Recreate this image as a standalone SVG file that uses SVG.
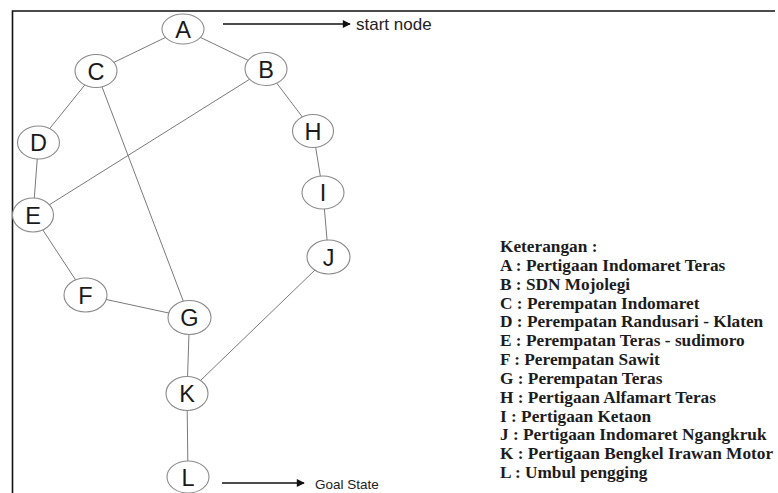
<svg xmlns="http://www.w3.org/2000/svg" width="778" height="493" viewBox="0 0 778 493">
  <style>
    .edge { stroke: #7a7a7a; stroke-width: 1; fill: none; }
    .node ellipse { fill: #ffffff; stroke: #8a8a8a; stroke-width: 1.1; }
    .node text { font-family: "Liberation Sans", Arial, sans-serif; font-size: 23.5px; fill: #1a1a1a; text-anchor: middle; }
    .note { font-family: "Liberation Sans", Arial, sans-serif; fill: #222; }
    .legend { font-family: "Liberation Serif", "Times New Roman", serif; font-weight: bold; font-size: 17.3px; fill: #1c1c1c; }
    .pointer { stroke: #111; stroke-width: 1.3; fill: none; marker-end: url(#head); }
  </style>
  <defs>
    <marker id="head" viewBox="0 0 10 10" refX="9" refY="5" markerWidth="9" markerHeight="8" markerUnits="userSpaceOnUse" orient="auto">
      <path d="M0,0 L10,5 L0,10 Z" fill="#111"/>
    </marker>
  </defs>

  <rect width="778" height="493" fill="#ffffff"/>

  <!-- frame -->
  <path d="M12.5,493 V11 H775" stroke="#111" stroke-width="1.6" fill="none"/>

  <!-- connectors -->
  <g id="edges">
    <line class="edge" x1="183" y1="29" x2="96" y2="71"/>
    <line class="edge" x1="183" y1="29" x2="266" y2="69"/>
    <line class="edge" x1="96" y1="71" x2="38.5" y2="142.5"/>
    <line class="edge" x1="96" y1="71" x2="189.5" y2="317.5"/>
    <line class="edge" x1="266" y1="69" x2="33" y2="215"/>
    <line class="edge" x1="266" y1="69" x2="313" y2="131"/>
    <line class="edge" x1="38.5" y1="142.5" x2="33" y2="215"/>
    <line class="edge" x1="33" y1="215" x2="85.5" y2="295"/>
    <line class="edge" x1="85.5" y1="295" x2="189.5" y2="317.5"/>
    <line class="edge" x1="189.5" y1="317.5" x2="187" y2="393.5"/>
    <line class="edge" x1="313" y1="131" x2="323" y2="192.5"/>
    <line class="edge" x1="323" y1="192.5" x2="328.5" y2="257"/>
    <line class="edge" x1="328.5" y1="257" x2="187" y2="393.5"/>
    <line class="edge" x1="187" y1="393.5" x2="188" y2="477"/>
  </g>

  <!-- nodes -->
  <g id="node-A" class="node"><ellipse cx="183" cy="29" rx="21" ry="15"/><text x="183" y="37.5">A</text></g>
  <g id="node-B" class="node"><ellipse cx="266" cy="69" rx="21" ry="16.5"/><text x="266" y="77.5">B</text></g>
  <g id="node-C" class="node"><ellipse cx="96" cy="71" rx="21" ry="16.5"/><text x="96" y="79.5">C</text></g>
  <g id="node-D" class="node"><ellipse cx="38.5" cy="142.5" rx="21" ry="16.5"/><text x="38.5" y="151">D</text></g>
  <g id="node-E" class="node"><ellipse cx="33" cy="215" rx="20.5" ry="17"/><text x="33" y="223.5">E</text></g>
  <g id="node-F" class="node"><ellipse cx="85.5" cy="295" rx="21.5" ry="17"/><text x="85.5" y="303.5">F</text></g>
  <g id="node-G" class="node"><ellipse cx="189.5" cy="317.5" rx="21.5" ry="17"/><text x="189.5" y="326">G</text></g>
  <g id="node-H" class="node"><ellipse cx="313" cy="131" rx="20.5" ry="16.5"/><text x="313" y="139.5">H</text></g>
  <g id="node-I" class="node"><ellipse cx="323" cy="192.5" rx="21" ry="16.5"/><text x="323" y="201">I</text></g>
  <g id="node-J" class="node"><ellipse cx="328.5" cy="257" rx="21.5" ry="17"/><text x="328.5" y="265.5">J</text></g>
  <g id="node-K" class="node"><ellipse cx="187" cy="393.5" rx="21" ry="17"/><text x="187" y="402">K</text></g>
  <g id="node-L" class="node"><ellipse cx="188" cy="477" rx="21" ry="16"/><text x="188" y="485.5">L</text></g>

  <!-- annotations -->
  <g id="start-note">
    <line class="pointer" x1="223" y1="24" x2="350" y2="24"/>
    <text class="note" x="356" y="30" font-size="17">start node</text>
  </g>
  <g id="goal-note">
    <line class="pointer" x1="222" y1="483" x2="304" y2="483"/>
    <text class="note" x="315" y="489" font-size="13.5">Goal State</text>
  </g>

  <!-- legend -->
  <g id="legend" class="legend">
    <text x="500" y="252">Keterangan :</text>
    <text x="500" y="270.8">A : Pertigaan Indomaret Teras</text>
    <text x="500" y="289.6">B : SDN Mojolegi</text>
    <text x="500" y="308.5">C : Perempatan Indomaret</text>
    <text x="500" y="327.3">D : Perempatan Randusari - Klaten</text>
    <text x="500" y="346.1">E : Perempatan Teras - sudimoro</text>
    <text x="500" y="365">F : Perempatan Sawit</text>
    <text x="500" y="383.8">G : Perempatan Teras</text>
    <text x="500" y="402.6">H : Pertigaan Alfamart Teras</text>
    <text x="500" y="421.5">I : Pertigaan Ketaon</text>
    <text x="500" y="440.3">J : Pertigaan Indomaret Ngangkruk</text>
    <text x="500" y="459.1">K : Pertigaan Bengkel Irawan Motor</text>
    <text x="500" y="478">L : Umbul pengging</text>
  </g>
</svg>
